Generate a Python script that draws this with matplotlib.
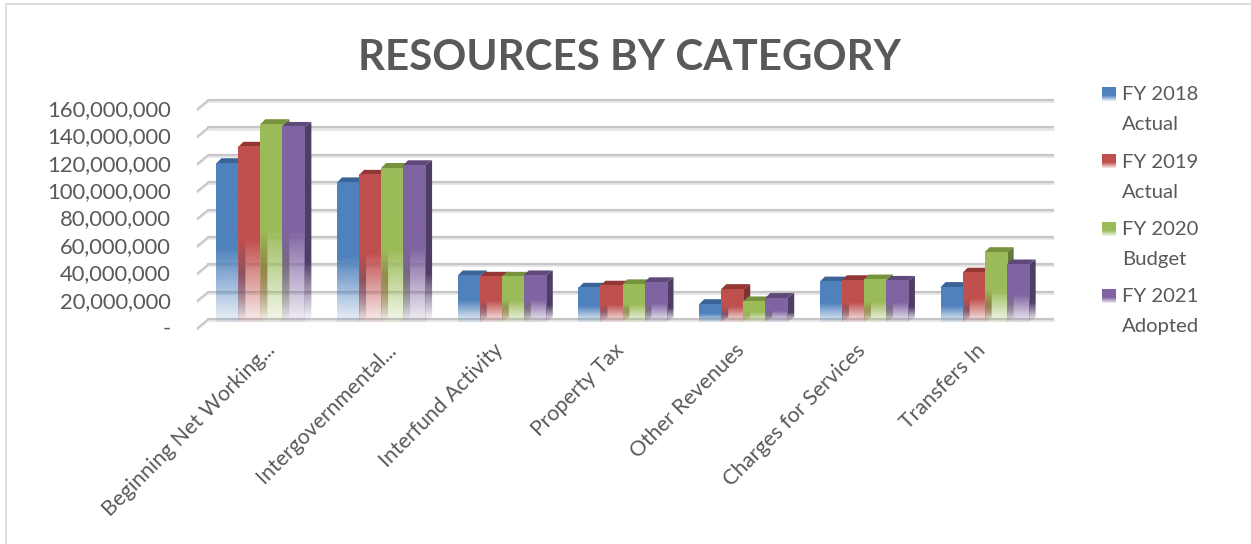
import numpy as np
import matplotlib
matplotlib.use('Agg')
import matplotlib.pyplot as plt
from matplotlib.patches import Polygon
from matplotlib.transforms import ScaledTranslation
from matplotlib.colors import to_rgb

plt.rcParams['font.family'] = ['Lato', 'DejaVu Sans']

categories = ['Beginning Net Working...', 'Intergovernmental...', 'Interfund Activity',
              'Property Tax', 'Other Revenues', 'Charges for Services', 'Transfers In']
fy2018 = [116.0, 102.0, 34.0, 25.0, 13.0, 29.5, 25.5]
fy2019 = [128.0, 107.5, 33.0, 26.5, 24.0, 30.5, 36.0]
fy2020 = [144.5, 112.5, 33.0, 27.5, 15.0, 31.0, 51.0]
fy2021 = [142.5, 114.5, 34.0, 29.0, 17.5, 30.0, 42.0]
series = [fy2018, fy2019, fy2020, fy2021]
series_names = ['FY 2018\nActual', 'FY 2019\nActual', 'FY 2020\nBudget', 'FY 2021\nAdopted']
y_ticks = [0, 20, 40, 60, 80, 100, 120, 140, 160]
y_labels = ['-', '20,000,000', '40,000,000', '60,000,000', '80,000,000', '100,000,000',
            '120,000,000', '140,000,000', '160,000,000']

front = ['#4F81BD', '#C0504D', '#9BBB59', '#8064A2']
top = ['#3A6496', '#943634', '#76923C', '#5F497A']
side = ['#35557E', '#80302E', '#647A38', '#4F3D66']
text_col = '#595959'

W, H = 1251, 544
DPI = 100
BAR_W = 22 / 120.7    # bar width in category units
FADE = 0.47           # lower part of a bar front that fades out
SIDE_FADE = 0.3       # the dark side keeps its colour further down


def px_shift(dx, dy):
    return ScaledTranslation(dx / DPI, dy / DPI, fig.dpi_scale_trans)


def fade_image(color, fade, lo_alpha):
    rgb = to_rgb(color)
    n = 200
    a = np.ones(n)
    k = int(n * fade)
    a[-k:] = np.linspace(1, lo_alpha, k)
    img = np.zeros((n, 1, 4))
    img[:, 0, :3] = rgb
    img[:, 0, 3] = a
    return img


fig = plt.figure(figsize=(W / DPI, H / DPI), dpi=DPI, facecolor='white')
ax = fig.add_axes([197 / W, (H - 328) / H, 845 / W, 219 / H])
ax.set_xlim(-0.5, len(categories) - 0.5)
ax.set_ylim(0, 160)
ax.patch.set_alpha(0)
for s in ax.spines.values():
    s.set_visible(False)

ax.set_yticks(y_ticks)
ax.set_yticklabels(y_labels, fontsize=15.8, color=text_col)
ax.set_xticks([])
ax.tick_params(axis='y', length=0, pad=19)
for lab in ax.get_yticklabels():
    lab.set_transform(lab.get_transform() + px_shift(0, 1))

# walls and grid, drawn with a soft lower edge
for t in y_ticks:
    for shift, col, lw in [(-1.2, '#E6E6E6', 2.0), (0, '#C6C6C6', 1.6)]:
        ax.plot([-0.5, 6.5], [t, t], color=col, lw=lw, transform=ax.transData + px_shift(11, 9 + shift),
                solid_capstyle='round', zorder=1, clip_on=False)
    x0, y0 = ax.transData.transform((-0.5, t))
    ax.add_patch(Polygon([[x0, y0 - 2], [x0 + 11, y0 + 7]], closed=False, fill=False, ec='#E6E6E6', lw=1.2,
                         transform=None, zorder=1, clip_on=False))
    ax.add_patch(Polygon([[x0, y0 - 0.5], [x0 + 11, y0 + 8.5]], closed=False, fill=False, ec='#C6C6C6', lw=1.4,
                         transform=None, zorder=1, clip_on=False))

# bars: left to right so each translucent front shows the neighbour's side
DX, DY = 7, 5
bar_shift = px_shift(3, 6)
z = 3
for i in range(len(categories)):
    for j, vals in enumerate(series):
        v = vals[i]
        x_left = i + (j - 2) * BAR_W
        x_right = x_left + BAR_W
        tr = ax.transData + bar_shift

        (xr, y0), (_, y1) = tr.transform([(x_right, 0), (x_right, v)])
        xl = tr.transform((x_left, 0))[0]

        side_poly = Polygon([[xr, y0], [xr + DX, y0 + DY], [xr + DX, y1 + DY], [xr, y1]], transform=None)
        im = ax.imshow(fade_image(side[j], SIDE_FADE, 0.0), extent=(x_right, x_right + 2 * BAR_W, 0, v + 6),
                       transform=tr, aspect='auto', zorder=z, interpolation='bilinear')
        im.set_clip_path(side_poly)
        ax.add_patch(Polygon([[xl, y1], [xr, y1], [xr + DX, y1 + DY], [xl + DX - 2, y1 + DY]], transform=None,
                             fc=top[j], ec='none', zorder=z + 1, clip_on=False))
        im = ax.imshow(fade_image(front[j], FADE, 0.1), extent=(x_left, x_right, 0, v), transform=tr,
                       aspect='auto', zorder=z + 2, interpolation='bilinear')
        im.set_clip_on(False)
        z += 3

ax.set_xlim(-0.5, len(categories) - 0.5)
ax.set_ylim(0, 160)

# category labels under the floor; shortened names sit further right
for i, name in enumerate(categories):
    dx = 15 if name.endswith('...') else 1
    ax.text(i, 0, name, rotation=45, rotation_mode='anchor', ha='right', va='center', fontsize=15.3,
            color=text_col, transform=ax.transData + px_shift(dx, -19), clip_on=False)

# overlay in pixel coordinates: border, title, legend
ov = fig.add_axes([0, 0, 1, 1], zorder=5)
ov.set_xlim(0, W)
ov.set_ylim(H, 0)
ov.axis('off')
ov.plot([6, 6, W], [H, 3.5, 3.5], color='#DDDDDD', lw=1.4)

ov.text(630, 57.5, 'RESOURCES BY CATEGORY', ha='center', va='center', fontsize=30.3, fontweight='bold',
        color=text_col)

for j, name in enumerate(series_names):
    y = 87 + 67.3 * j
    ov.imshow(fade_image(front[j], 0.4, 0.1), extent=(1102, 1116, y + 14, y), aspect='auto',
              interpolation='bilinear')
    l1, l2 = name.split('\n')
    ov.text(1122, y + 8, l1, ha='left', va='center', fontsize=14.6, color=text_col)
    ov.text(1122, y + 38, l2, ha='left', va='center', fontsize=14.6, color=text_col)
ov.set_xlim(0, W)
ov.set_ylim(H, 0)

fig.savefig('out.png', dpi=DPI)
